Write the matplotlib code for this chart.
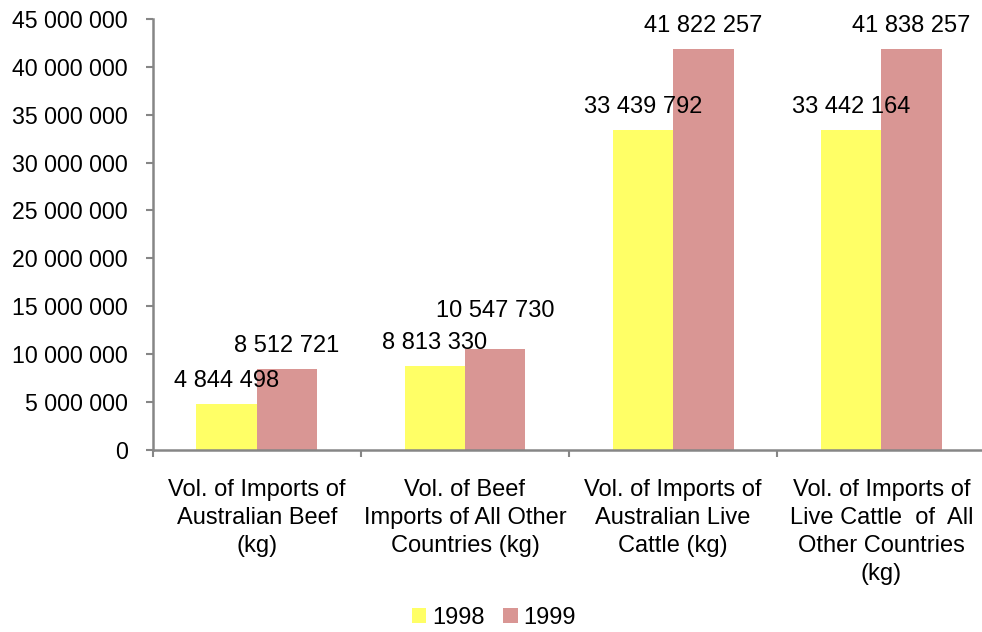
import matplotlib.pyplot as plt
import matplotlib.ticker as mticker
import numpy as np

plt.rcParams['font.family'] = ['Liberation Sans', 'DejaVu Sans']

categories = ['Vol. of Imports of\nAustralian Beef\n(kg)',
              'Vol. of Beef\nImports of All Other\nCountries (kg)',
              'Vol. of Imports of\nAustralian Live\nCattle (kg)',
              'Vol. of Imports of\nLive Cattle  of  All\nOther Countries\n(kg)']
v1998 = [4844498, 8813330, 33439792, 33442164]
v1999 = [8512721, 10547730, 41822257, 41838257]

c98 = '#FFFF66'
c99 = '#D99694'
grey = '#868686'
fs = 17

fig = plt.figure(figsize=(9.82, 6.32), dpi=100)
ax = fig.add_axes([0.1555, 0.2875, 0.848, 0.683])

x = np.arange(len(categories))
w = 0.29
b1 = ax.bar(x - w/2, v1998, w, color=c98, label='1998')
b2 = ax.bar(x + w/2, v1999, w, color=c99, label='1999')

def fmt(v):
    return f'{int(v):,}'.replace(',', ' ')

# label lift in points (the second 1999 label sits higher, as in the original)
lift98 = [12, 12, 12, 12]
lift99 = [12, 23, 12, 12]
for bars, vals, lifts in ((b1, v1998, lift98), (b2, v1999, lift99)):
    for r, v, dy in zip(bars, vals, lifts):
        ax.annotate(fmt(v), (r.get_x() + r.get_width()/2, v),
                    xytext=(0, dy), textcoords='offset points',
                    ha='center', va='baseline', fontsize=fs)

ax.set_xlim(-0.5, 3.5)
ax.set_ylim(0, 45000000)
ax.yaxis.set_major_locator(mticker.MultipleLocator(5000000))
ax.yaxis.set_major_formatter(mticker.FuncFormatter(lambda v, p: fmt(v)))

ax.set_xticks(np.arange(-0.5, 4.0, 1.0))
ax.set_xticklabels([])
ax.set_xticks(x, minor=True)
ax.set_xticklabels(categories, minor=True, fontsize=fs, linespacing=1.35)
ax.tick_params(axis='x', which='minor', length=0, pad=21)
ax.tick_params(axis='x', which='major', length=5, width=1.5, color=grey)
ax.tick_params(axis='y', length=5, width=1.5, color=grey, pad=13, labelsize=16.7)

for s in ('top', 'right'):
    ax.spines[s].set_visible(False)
for s in ('left', 'bottom'):
    ax.spines[s].set_color(grey)
    ax.spines[s].set_linewidth(1.8)

fig.legend(loc='center', bbox_to_anchor=(0.503, 0.022), ncol=2, frameon=False,
           fontsize=fs, handlelength=0.6, handleheight=0.6, handletextpad=0.25,
           columnspacing=0.8)

fig.savefig('out.png', dpi=100)
